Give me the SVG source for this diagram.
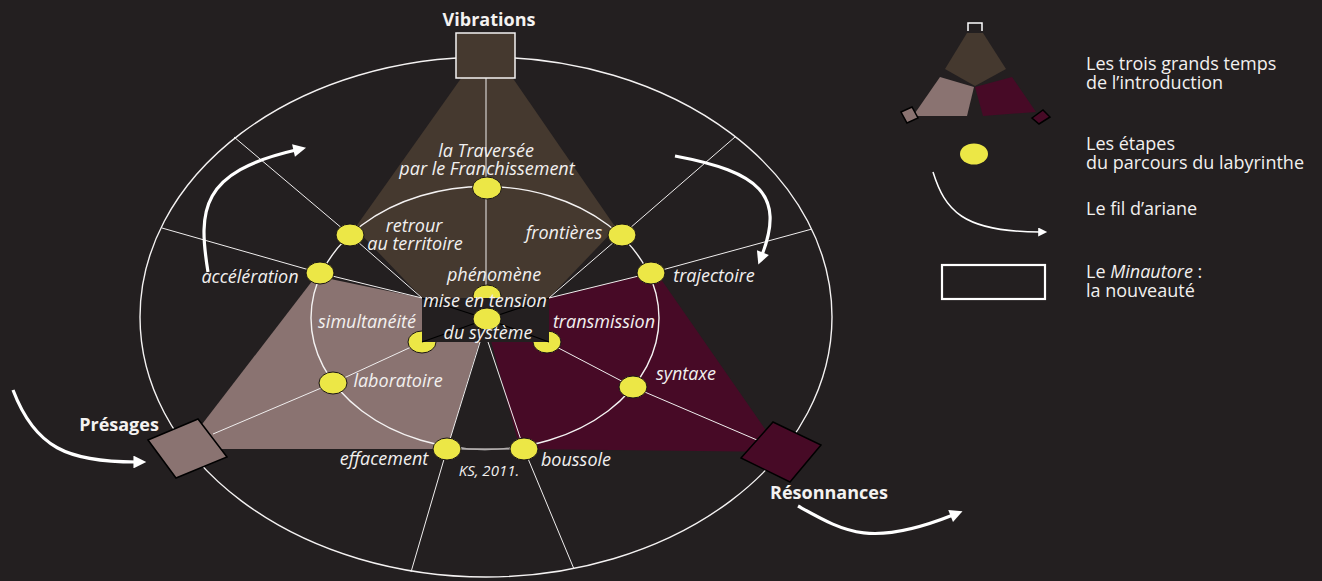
<svg xmlns="http://www.w3.org/2000/svg" width="1322" height="581" viewBox="0 0 1322 581">
<defs>
<style>
.lbl{font-family:"Open Sans","Liberation Sans",sans-serif;font-style:italic;font-size:18px;fill:#f2f0ef}
.small{font-family:"Open Sans","Liberation Sans",sans-serif;font-style:italic;font-size:15px;fill:#f2f0ef}
.bold{font-family:"Open Sans","Liberation Sans",sans-serif;font-weight:bold;font-size:18px;fill:#f4f2f1}
.leg{font-family:"Open Sans","Liberation Sans",sans-serif;font-size:18px;fill:#f2f0ef}
.spoke{stroke:#f0eeee;stroke-width:1;fill:none}
.ring{stroke:#f4f2f2;stroke-width:1.4;fill:none}
.node{fill:#ece746;stroke:#1a1516;stroke-width:1}
.arr{stroke:#fff;stroke-width:3.2;fill:none}
.brown{fill:#45392f}
.pink{fill:#8a7371}
.maroon{fill:#470a26}
</style>
<marker id="ah" viewBox="0 0 10 10" refX="2" refY="5" markerWidth="5.5" markerHeight="4" orient="auto">
<path d="M0,0 L10,5 L0,10 Z" fill="#fff"/>
</marker>
<marker id="ahs" viewBox="0 0 10 10" refX="2" refY="5" markerWidth="8" markerHeight="6" orient="auto">
<path d="M0,0 L10,5 L0,10 Z" fill="#fff"/>
</marker>
</defs>
<rect x="0" y="0" width="1322" height="581" fill="#231f20"/>

<g id="sectors">
<polygon class="brown" points="462,77 512,77 616,228 549,298 422,298 355,228"/>
<polygon class="pink" points="316,276 422,298 486,320 447,449 183,449"/>
<polygon class="maroon" points="656,272 549,298 486,322 520,449 781,452"/>
</g>

<g id="rings">
<ellipse class="ring" cx="486" cy="317" rx="346" ry="260"/>
<ellipse class="ring" cx="485" cy="318" rx="174" ry="131.5"/>
<line x1="455" y1="449" x2="516" y2="449" stroke="#9a9595" stroke-width="1.4"/>
</g>

<g id="connectors">
<line class="spoke" x1="486" y1="77" x2="486" y2="298"/>
<polyline class="spoke" points="234,137 350,235 422,298"/>
<polyline class="spoke" points="162,228 320,273 422,298"/>
<polyline class="spoke" points="735,137 622,235 549,298"/>
<polyline class="spoke" points="812,229 651,273 549,298"/>
<polyline class="spoke" points="213,434 333,383 422,342"/>
<polyline class="spoke" points="757,440 633,387 547,342"/>
<polyline class="spoke" points="480,342 447,449 411,572"/>
<polyline class="spoke" points="484,330 524,449 574,569"/>
<path class="arr" d="M208,272 C198,210 200,172 296,150" marker-end="url(#ah)"/>
<path class="arr" d="M675,156 C760,172 785,195 762,255" marker-end="url(#ah)"/>
<path class="arr" d="M13,390 C35,448 68,462 136,462" marker-end="url(#ah)"/>
<path class="arr" d="M798,506 C845,532 870,548 953,515" marker-end="url(#ah)"/>
</g>

<g id="node-vibrations">
<rect x="456" y="33" width="59" height="45" fill="#45392f" stroke="#f4f2f2" stroke-width="1.5"/>
<text class="bold" x="489" y="26" text-anchor="middle">Vibrations</text>
</g>
<g id="node-presages">
<polygon points="148,440 198,419 227,457 176,478" fill="#8a7371" stroke="#000" stroke-width="1.5"/>
<text class="bold" x="119" y="431" text-anchor="middle">Présages</text>
</g>
<g id="node-resonnances">
<polygon points="773,422 821,445 790,482 741,458" fill="#470a26" stroke="#000" stroke-width="1.5"/>
<text class="bold" x="829" y="499" text-anchor="middle">Résonnances</text>
</g>

<g id="node-phenomene">
<ellipse class="node" cx="487" cy="296" rx="14" ry="11"/>
<text class="lbl" x="494" y="281" text-anchor="middle">phénomène</text>
</g>
<g id="node-simultaneite">
<ellipse class="node" cx="422" cy="342" rx="14" ry="11"/>
<text class="lbl" x="367" y="328" text-anchor="middle">simultanéité</text>
</g>
<g id="node-transmission">
<ellipse class="node" cx="547" cy="342" rx="14" ry="11"/>
<text class="lbl" x="604" y="328" text-anchor="middle">transmission</text>
</g>

<g id="node-center">
<rect x="422" y="298" width="127" height="44" fill="#231f20"/>
<g stroke="#000" stroke-width="1.2">
<line x1="422" y1="298" x2="487" y2="319"/>
<line x1="549" y1="298" x2="487" y2="319"/>
<line x1="422" y1="342" x2="487" y2="319"/>
<line x1="549" y1="342" x2="487" y2="319"/>
</g>
<ellipse class="node" cx="487" cy="319" rx="14" ry="11"/>
<text class="lbl" x="485" y="307" text-anchor="middle">mise en tension</text>
<text class="lbl" x="488" y="339" text-anchor="middle">du système</text>
</g>

<g id="node-traversee">
<ellipse class="node" cx="487" cy="188" rx="14.5" ry="11"/>
<text class="lbl" x="486" y="157" text-anchor="middle">la Traversée</text>
<text class="lbl" x="487" y="175" text-anchor="middle">par le Franchissement</text>
</g>
<g id="node-retour">
<ellipse class="node" cx="350" cy="235" rx="14" ry="11"/>
<text class="lbl" x="414" y="232" text-anchor="middle">retrour</text>
<text class="lbl" x="415" y="250" text-anchor="middle">au territoire</text>
</g>
<g id="node-frontieres">
<ellipse class="node" cx="622" cy="235" rx="14" ry="11"/>
<text class="lbl" x="564" y="239" text-anchor="middle">frontières</text>
</g>
<g id="node-acceleration">
<ellipse class="node" cx="320" cy="273" rx="14" ry="11"/>
<text class="lbl" x="250" y="283" text-anchor="middle">accélération</text>
</g>
<g id="node-trajectoire">
<ellipse class="node" cx="651" cy="273" rx="14" ry="11"/>
<text class="lbl" x="714" y="282" text-anchor="middle">trajectoire</text>
</g>
<g id="node-laboratoire">
<ellipse class="node" cx="333" cy="383" rx="14" ry="11"/>
<text class="lbl" x="398" y="387" text-anchor="middle">laboratoire</text>
</g>
<g id="node-syntaxe">
<ellipse class="node" cx="633" cy="387" rx="14" ry="11"/>
<text class="lbl" x="686" y="380" text-anchor="middle">syntaxe</text>
</g>
<g id="node-effacement">
<ellipse class="node" cx="447" cy="449" rx="14" ry="11"/>
<text class="lbl" x="384" y="465" text-anchor="middle">effacement</text>
</g>
<g id="node-boussole">
<ellipse class="node" cx="524" cy="449" rx="14" ry="11"/>
<text class="lbl" x="576" y="466" text-anchor="middle">boussole</text>
</g>
<text class="small" x="489" y="476" text-anchor="middle">KS, 2011.</text>

<g id="legend">
<polyline points="968,31 968,23 982,23 982,31" fill="none" stroke="#fff" stroke-width="1.5"/>
<polygon points="967,33 983,33 1006,69 975,86 945,69" fill="#45392f"/>
<polygon points="940,77 974,87 967,116 913,116" fill="#8a7371"/>
<polygon points="975,87 1012,77 1036,112 983,116" fill="#470a26"/>
<polygon points="901,112 912,107 918,118 907,123" fill="#8a7371" stroke="#000" stroke-width="1.5"/>
<polygon points="1032,118 1043,110 1050,117 1039,124" fill="#470a26" stroke="#000" stroke-width="1.5"/>
<text class="leg" x="1086" y="70">Les trois grands temps</text>
<text class="leg" x="1086" y="89">de l’introduction</text>
<ellipse cx="974" cy="154" rx="14" ry="10.5" fill="#ece746"/>
<text class="leg" x="1086" y="150">Les étapes</text>
<text class="leg" x="1086" y="169">du parcours du labyrinthe</text>
<path d="M933,172 C945,210 962,232 1040,232" stroke="#fff" stroke-width="1.5" fill="none" marker-end="url(#ahs)"/>
<text class="leg" x="1086" y="215">Le fil d’ariane</text>
<rect x="942" y="265" width="103" height="34" fill="none" stroke="#fff" stroke-width="2.2"/>
<text class="leg" x="1086" y="278">Le <tspan font-style="italic">Minautore</tspan> :</text>
<text class="leg" x="1086" y="297">la nouveauté</text>
</g>
</svg>
